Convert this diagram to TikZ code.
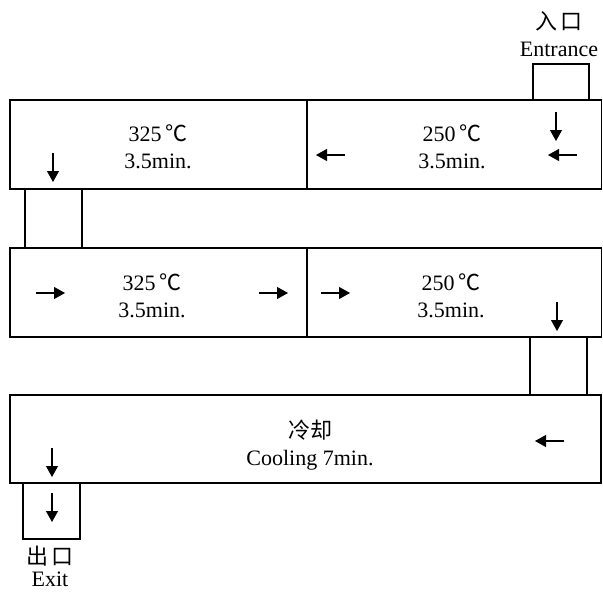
\documentclass[tikz,border=0pt]{standalone}
\usepackage{fontspec}
\setmainfont{Liberation Serif}
\newfontfamily\cjk{Noto Sans CJK SC}
\usetikzlibrary{arrows.meta}

\tikzset{
  belt/.style={draw, line width=1.4pt},
  flow/.style={-{Triangle[length=11pt,width=12pt]}, line width=1.1pt},
  stage/.style={align=center, font=\fontsize{22}{27}\selectfont, inner sep=0pt},
}
\newcommand{\degC}{\,{\cjk ℃}}

\begin{document}
\begin{tikzpicture}[x=1pt, y=-1pt]
  \useasboundingbox (0,0) rectangle (603,594);
  % transfer boxes between the belts
  \draw[belt] (533,64) rectangle (589,100);
  \draw[belt] (25,189) rectangle (82,248);
  \draw[belt] (530,337) rectangle (587,395);
  \draw[belt] (23,483) rectangle (80,539);
  % belts
  \draw[belt, fill=white] (10,100) rectangle (601.5,189);
  \draw[belt] (307,100) -- (307,189);
  \draw[belt, fill=white] (10,248) rectangle (601.5,337);
  \draw[belt] (307,248) -- (307,337);
  \draw[belt, fill=white] (10,395) rectangle (601,483);
  % zones
  \node[stage] (hotA) at (158,147) {325\degC\\3.5min.};
  \node[stage] (warmA) at (452,147) {250\degC\\3.5min.};
  \node[stage] (hotB) at (152,296) {325\degC\\3.5min.};
  \node[stage] (warmB) at (451,296) {250\degC\\3.5min.};
  \node[stage] (cool) at (310,445) {{\cjk 冷却}\\Cooling 7min.};
  \node[stage] (entry) at (559,34) {{\cjk 入\,口}\\Entrance};
  \node[stage, anchor=north] (exit) at (50,546) {{\cjk 出\,口}\\[-5pt]Exit};
  % direction of travel
  \foreach \a/\b in {556/112, 53/153, 557/302, 52/448, 52/493}
    \draw[flow] (\a,\b) -- (\a,\b+29);
  \foreach \a/\b in {577/155, 345/155, 564/441}
    \draw[flow] (\a,\b) -- (\a-29,\b);
  \foreach \a/\b in {36/293, 259/293, 321/293}
    \draw[flow] (\a,\b) -- (\a+29,\b);
\end{tikzpicture}
\end{document}
